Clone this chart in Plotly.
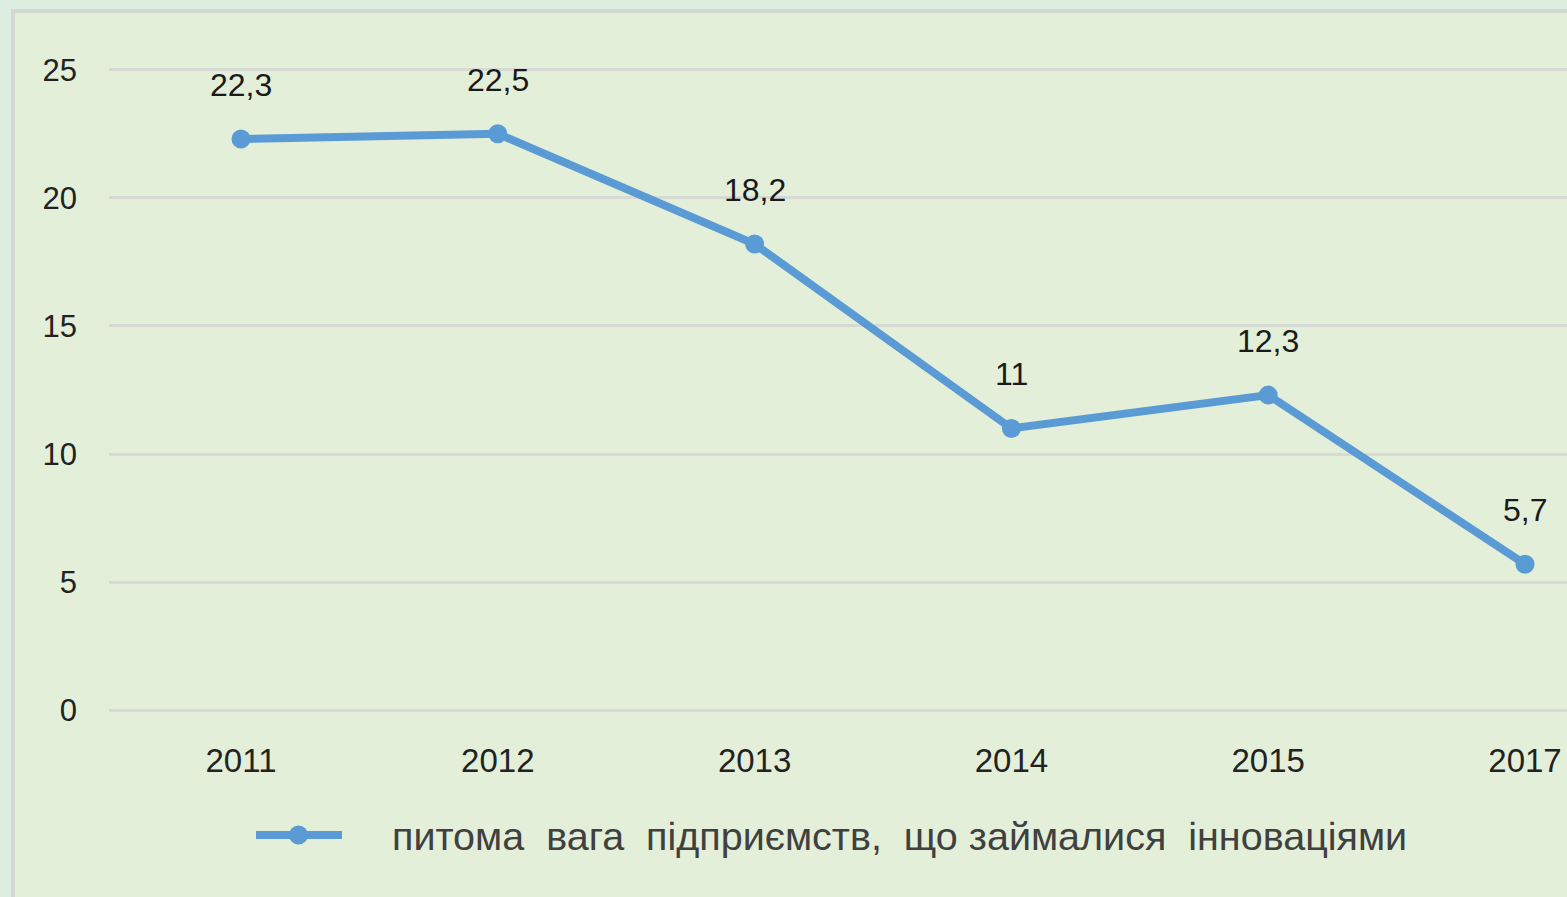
import plotly.graph_objects as go

years = ["2011", "2012", "2013", "2014", "2015", "2017"]
values = [22.3, 22.5, 18.2, 11, 12.3, 5.7]
labels = ["22,3", "22,5", "18,2", "11", "12,3", "5,7"]
series_name = "питома  вага  підприємств,  що займалися  інноваціями"
y_ticks = [0, 5, 10, 15, 20, 25]

W, H = 1567, 897
L, R, T, B = 109, 0, 68, 185
pw, ph = W - L - R, H - T - B

def px2x(p):
    return (p - L) / pw

def px2y(p):
    return (H - B - p) / ph

BLUE = "#5B9BD5"
FONT = "Liberation Sans"
STEP = 256.8
X0 = -132 / STEP

fig = go.Figure()
fig.add_trace(go.Scatter(
    x=years, y=values, mode="lines+markers", name=series_name,
    line=dict(color=BLUE, width=8),
    marker=dict(color=BLUE, size=19),
    showlegend=False,
))

for i, (v, lab) in enumerate(zip(values, labels)):
    fig.add_annotation(x=i, y=v, text=lab, showarrow=False, yshift=54,
                       font=dict(family=FONT, size=32, color="#1a1a1a"))

# inner chart frame
fig.add_shape(type="rect", xref="paper", yref="paper", layer="below",
              x0=px2x(13), x1=px2x(1600), y0=px2y(930), y1=px2y(11),
              fillcolor="#E3EFD8", line=dict(color="#D5D8D2", width=4))

# legend swatch
fig.add_shape(type="line", xref="paper", yref="paper",
              x0=px2x(256), x1=px2x(342), y0=px2y(835), y1=px2y(835),
              line=dict(color=BLUE, width=8))
fig.add_shape(type="circle", xref="paper", yref="paper",
              x0=px2x(289), x1=px2x(308), y0=px2y(844.5), y1=px2y(825.5),
              fillcolor=BLUE, line=dict(color=BLUE, width=0))
fig.add_annotation(xref="paper", yref="paper", x=px2x(390), y=px2y(836),
                   xanchor="left", yanchor="middle", showarrow=False,
                   text=series_name,
                   font=dict(family=FONT, size=39.5, color="#404040"))

fig.update_xaxes(type="category", range=[X0, X0 + pw / STEP],
                 showgrid=False, zeroline=False, showline=False, ticks="",
                 tickfont=dict(family=FONT, size=33, color="#222"),
                 ticklabelstandoff=26)
fig.update_yaxes(range=[-0.07, 25.07], tickvals=y_ticks, showgrid=True,
                 gridcolor="#D7D9D4", gridwidth=3, zeroline=False,
                 showline=False, ticks="",
                 tickfont=dict(family=FONT, size=31, color="#222"),
                 ticklabelstandoff=31)

fig.update_layout(
    width=W, height=H,
    margin=dict(l=L, r=R, t=T, b=B),
    paper_bgcolor="#DCEEDF",
    plot_bgcolor="rgba(0,0,0,0)",
    showlegend=False,
)

fig.write_html("out.html", config={"displayModeBar": False},
               post_script="document.body.style.margin='0px';document.body.style.background='#DCEEDF';")
